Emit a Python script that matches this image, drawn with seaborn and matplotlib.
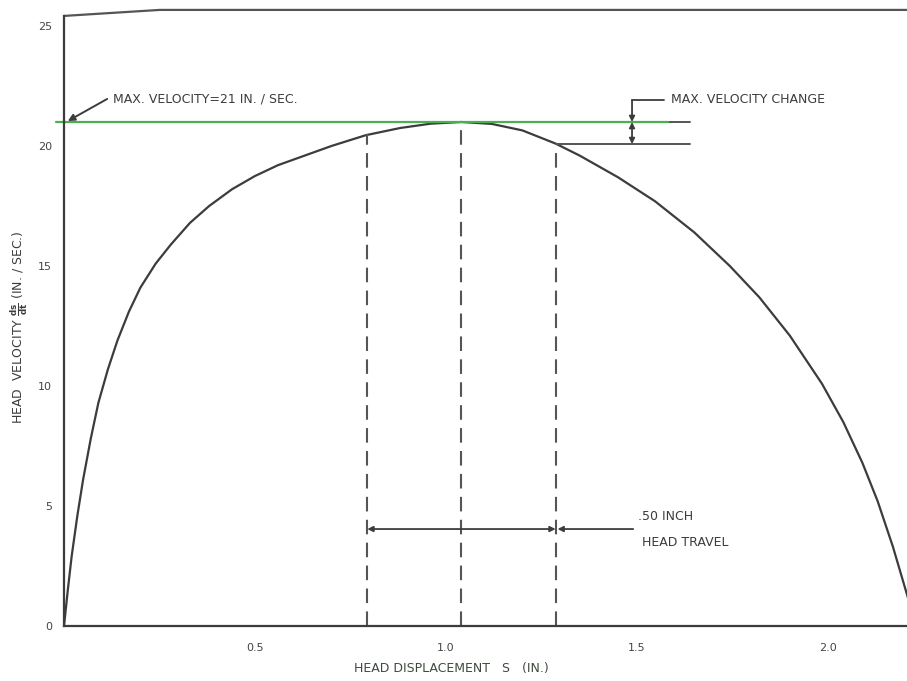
import matplotlib
matplotlib.use("Agg")
import matplotlib.pyplot as plt
import seaborn as sns
import pandas as pd

# ---- data ----
displacement = [0.0, 0.01, 0.02, 0.035, 0.05, 0.07, 0.09, 0.115, 0.14, 0.17, 0.20,
                0.24, 0.28, 0.33, 0.38, 0.44, 0.50, 0.56, 0.63, 0.70, 0.79, 0.88,
                0.96, 1.04, 1.12, 1.20, 1.287, 1.35, 1.45, 1.547, 1.65, 1.743, 1.82,
                1.90, 1.984, 2.04, 2.09, 2.13, 2.17, 2.207, 2.23]
velocity = [0.0, 1.5, 2.9, 4.6, 6.1, 7.8, 9.3, 10.7, 11.9, 13.1, 14.1,
            15.1, 15.9, 16.8, 17.5, 18.2, 18.75, 19.2, 19.6, 20.0, 20.45, 20.75,
            20.93, 21.0, 20.92, 20.65, 20.1, 19.6, 18.7, 17.7, 16.4, 15.0, 13.7,
            12.1, 10.1, 8.5, 6.8, 5.2, 3.3, 1.3, 0.0]
max_velocity = 21.0
velocity_at_right = 20.08
dashed_positions = [0.794, 1.039, 1.287]
dashed_tops = [20.5, 21.0, 20.1]
x_ticks = [0.5, 1.0, 1.5, 2.0]
x_tick_labels = ["0.5", "1.0", "1.5", "2.0"]
y_ticks = [0, 5, 10, 15, 20, 25]
y_tick_labels = ["0", "5", "10", "15", "20", "25"]

df = pd.DataFrame({"s": displacement, "v": velocity})

sns.set_style("white")
plt.rcParams["font.family"] = ["DejaVu Sans"]

ink = "#3c3c3c"
fs = 9
fig = plt.figure(figsize=(9.07, 6.81), dpi=100)
ax = fig.add_axes([64 / 907, 55 / 681, 843 / 907, 622 / 681])
ax.set_xlim(0, 843 / 382)
ax.set_ylim(0, 622 / 24)

sns.lineplot(data=df, x="s", y="v", sort=False, estimator=None, ax=ax,
             color=ink, linewidth=1.6)

# dashed verticals
for xp, top in zip(dashed_positions, dashed_tops):
    ax.plot([xp, xp], [0, top], color="#555555", lw=1.5, dashes=(7, 4))

# max velocity line (green) and lower reference line
ax.plot([1.40, 1.64], [max_velocity, max_velocity], color="#555555", lw=1.4)
ax.plot([-0.02, 1.58], [max_velocity, max_velocity], color="#4caf50", lw=1.6,
        clip_on=False)
ax.plot([1.287, 1.64], [velocity_at_right, velocity_at_right], color="#555555", lw=1.4)

# max velocity annotation
ax.annotate("", xy=(0.01, 21.04), xytext=(0.113, 21.96),
            arrowprops=dict(arrowstyle="-|>", color=ink, lw=1.4,
                            shrinkA=0, shrinkB=0, mutation_scale=10))
ax.text(0.128, 21.96, "MAX. VELOCITY=21 IN. / SEC.", fontsize=fs, color=ink,
        va="center", ha="left")

# max velocity change annotation
ax.plot([1.487, 1.57], [21.92, 21.92], color=ink, lw=1.3)
ax.annotate("", xy=(1.487, max_velocity), xytext=(1.487, 21.92),
            arrowprops=dict(arrowstyle="-|>", color=ink, lw=1.3,
                            shrinkA=0, shrinkB=0, mutation_scale=8))
ax.annotate("", xy=(1.487, velocity_at_right), xytext=(1.487, max_velocity),
            arrowprops=dict(arrowstyle="<|-|>", color=ink, lw=1.3,
                            shrinkA=0, shrinkB=0, mutation_scale=8))
ax.text(1.59, 21.92, "MAX. VELOCITY CHANGE", fontsize=fs, color=ink,
        va="center", ha="left")

# head travel annotation
y_arrow = 4.04
ax.annotate("", xy=(dashed_positions[0], y_arrow), xytext=(dashed_positions[2], y_arrow),
            arrowprops=dict(arrowstyle="<|-|>", color=ink, lw=1.3,
                            shrinkA=0, shrinkB=0, mutation_scale=8))
ax.annotate("", xy=(dashed_positions[2] + 0.005, y_arrow), xytext=(1.49, y_arrow),
            arrowprops=dict(arrowstyle="-|>", color=ink, lw=1.3,
                            shrinkA=0, shrinkB=0, mutation_scale=8))
ax.text(1.503, 4.55, ".50 INCH", fontsize=fs, color=ink, va="center", ha="left")
ax.text(1.513, 3.5, "HEAD TRAVEL", fontsize=fs, color=ink, va="center", ha="left")

# spines / frame
for side in ["top", "right"]:
    ax.spines[side].set_visible(False)
ax.spines["left"].set_bounds(0, 25.42)
for side in ["left", "bottom"]:
    ax.spines[side].set_color(ink)
    ax.spines[side].set_linewidth(1.6)
ax.plot([0, 0.25, 843 / 382], [25.42, 25.67, 25.67], color="#555555", lw=1.6,
        clip_on=False)

ax.set_xticks(x_ticks)
ax.set_xticklabels(x_tick_labels)
ax.set_yticks(y_ticks)
ax.set_yticklabels(y_tick_labels)
ax.tick_params(axis="both", direction="in", length=5, width=1.0, color=ink,
               labelsize=8, labelcolor="#444444")
ax.tick_params(axis="x", pad=12)
ax.tick_params(axis="y", pad=8.5)

ax.set_xlabel("HEAD DISPLACEMENT   S   (IN.)", fontsize=9, color="#3f4a3f")
ax.set_ylabel(r"HEAD  VELOCITY $\mathbf{\frac{ds}{dt}}$ (IN. / SEC.)", fontsize=9,
              color=ink)
ax.xaxis.set_label_coords((451 - 64) / 843, -(662 - 626) / 622)
ax.yaxis.set_label_coords(-(64 - 30) / 843, (626 - 327) / 622)

fig.savefig("out.png", dpi=100)
